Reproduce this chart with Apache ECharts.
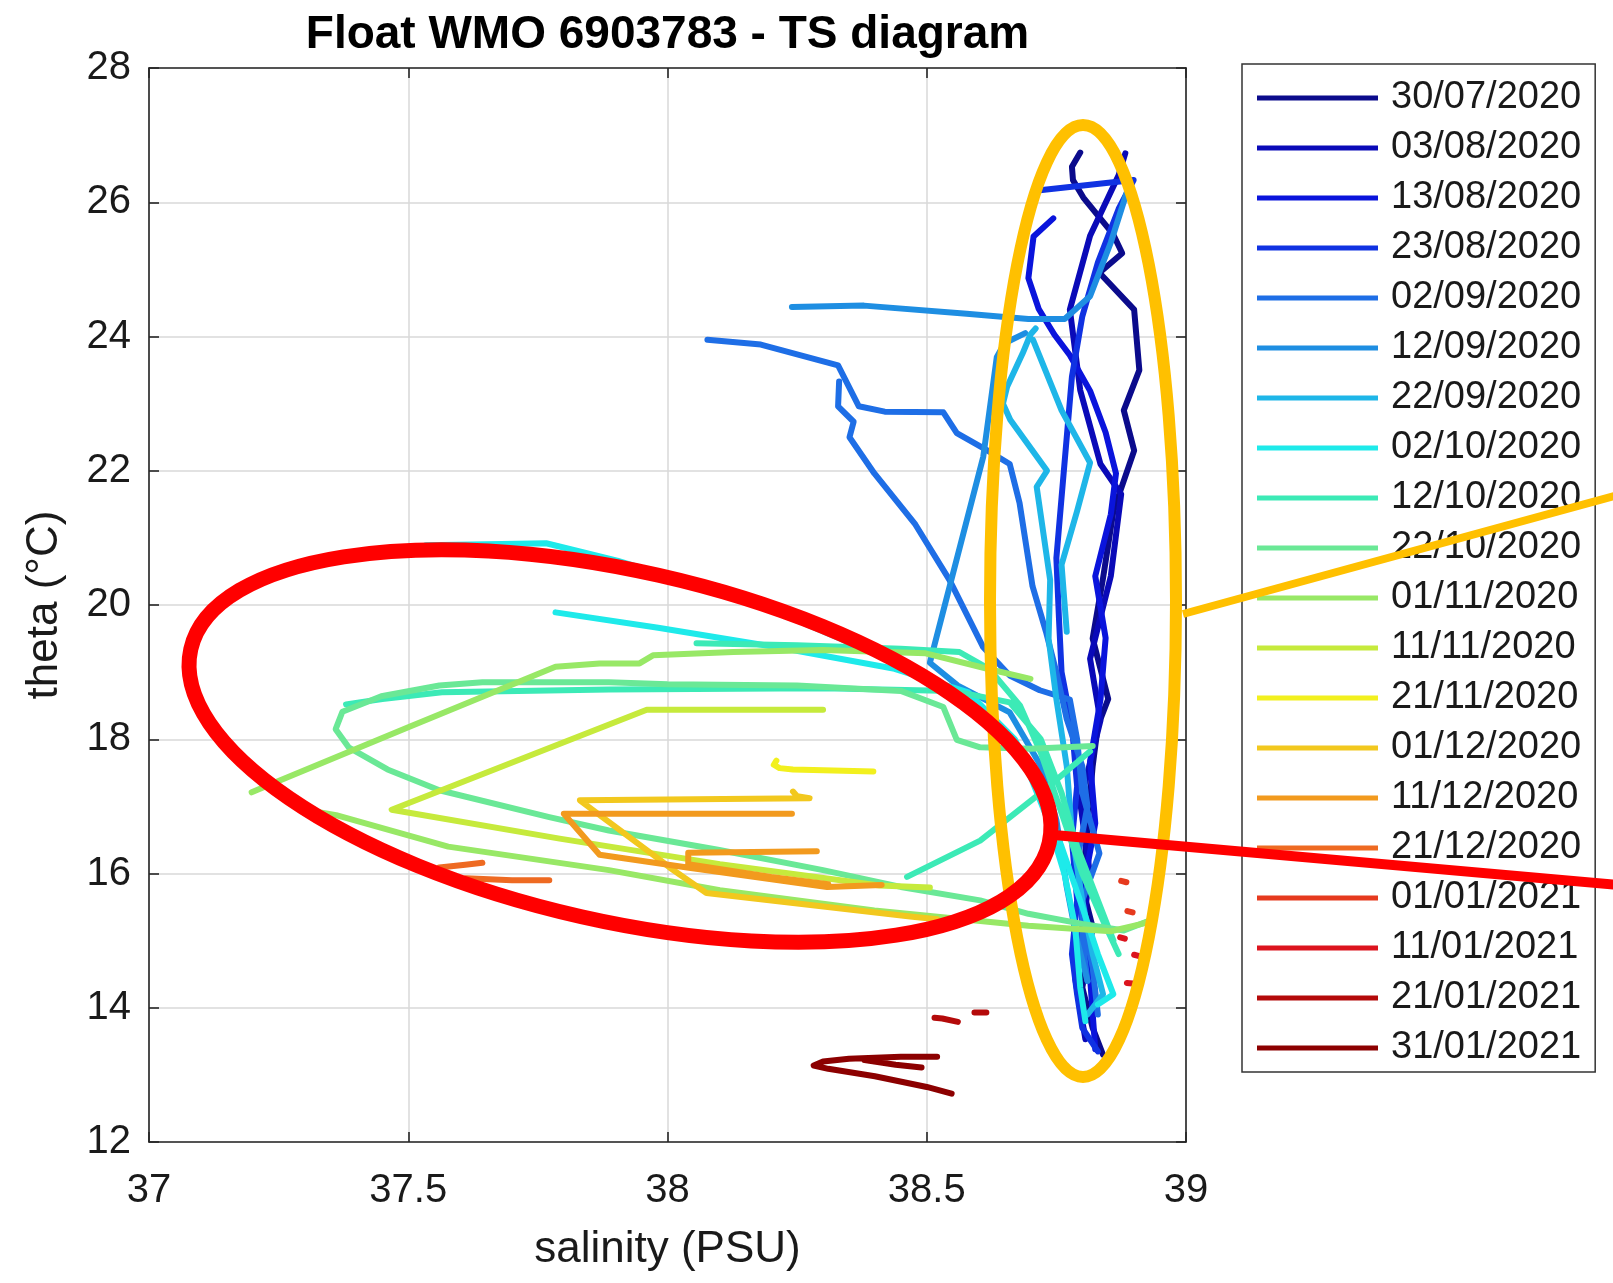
<!DOCTYPE html>
<html>
<head>
<meta charset="utf-8">
<title>Float WMO 6903783 - TS diagram</title>
<script src="https://cdn.jsdelivr.net/npm/echarts@6/dist/echarts.min.js"></script>
<style>
  html, body { margin: 0; padding: 0; background: #ffffff; }
  #chart { width: 1613px; height: 1283px; }
</style>
</head>
<body>
<div id="chart"></div>
<script>
// Profile dates (one legend entry per profile)
const profileDates = [
  '30/07/2020', '03/08/2020', '13/08/2020', '23/08/2020', '02/09/2020',
  '12/09/2020', '22/09/2020', '02/10/2020', '12/10/2020', '22/10/2020',
  '01/11/2020', '11/11/2020', '21/11/2020', '01/12/2020', '11/12/2020',
  '21/12/2020', '01/01/2021', '11/01/2021', '21/01/2021', '31/01/2021'
];

// jet-like colour sequence, one per profile
const profileColors = [
  '#0b0b8c', '#0a0ab8', '#0a14dc', '#1032e2', '#1e6ee6',
  '#1e8ee2', '#1eb6e8', '#1eeaea', '#3ceab6', '#6ae896',
  '#98e866', '#c6ea3c', '#f2f01e', '#f2c81e', '#f29a1e',
  '#ee6a22', '#e63a1e', '#dc141e', '#b40a0a', '#8c0000'
];

// gap marker between separate pieces of the same profile
const GAP = ['-', '-'];

// [salinity (PSU), theta (°C)]
const p_30_07_2020 = [[38.796,26.74],[38.78,26.53],[38.782,26.33],[38.802,26.07],[38.859,25.53],[38.877,25.24],[38.833,24.95],[38.90,24.4],[38.91,23.5],[38.88,22.9],[38.90,22.3],[38.86,21.4],[38.84,20.4],[38.82,19.5],[38.85,18.6],[38.83,18.2],[38.82,17.6],[38.81,16.7],[38.80,15.8],[38.82,15.2],[38.80,14.3],[38.82,13.7],[38.84,13.3]];
const p_03_08_2020 = [[38.883,26.73],[38.87,26.4],[38.815,25.5],[38.776,24.4],[38.796,23.2],[38.835,22.1],[38.875,21.65],[38.855,20.43],[38.815,19.2],[38.835,18.28],[38.796,17.06],[38.815,15.98],[38.786,14.45],[38.806,13.53]];
const p_13_08_2020 = [[38.744,25.76],[38.706,25.49],[38.696,24.87],[38.716,24.41],[38.746,24.03],[38.776,23.72],[38.815,23.19],[38.845,22.57],[38.865,21.96],[38.855,21.35],[38.825,20.43],[38.845,19.51],[38.835,18.59],[38.815,17.67],[38.825,16.75],[38.796,15.52],[38.815,14.45],[38.825,13.38]];
const p_23_08_2020 = [[38.718,26.18],[38.899,26.33],[38.87,25.9],[38.83,25.1],[38.80,24.3],[38.78,23.4],[38.77,22.5],[38.76,21.6],[38.75,20.7],[38.755,19.8],[38.76,19.0],[38.78,18.2],[38.79,17.3],[38.78,16.5],[38.79,15.6],[38.78,14.8],[38.79,14.2],[38.80,13.7],[38.83,13.35]];
const p_02_09_2020 = [[38.077,23.95],[38.18,23.88],[38.329,23.57],[38.369,22.96],[38.419,22.88],[38.532,22.87],[38.558,22.56],[38.615,22.31],[38.66,22.1],[38.679,21.52],[38.704,20.28],[38.73,19.6],[38.75,19.0],[38.77,18.3],[38.80,17.6],[38.81,17.0],[38.79,16.2],[38.80,15.4],[38.82,14.6],[38.83,13.9],
  GAP, [38.331,23.33],[38.329,22.96],[38.359,22.73],[38.351,22.5],[38.399,21.96],[38.478,21.2],[38.544,20.37],[38.609,19.37],[38.66,18.95],[38.718,18.73],[38.776,18.59],[38.79,18.0],[38.80,17.2],[38.833,16.3],[38.80,15.6],[38.80,15.0],[38.81,14.4]];
const p_12_09_2020 = [[38.240,24.44],[38.379,24.46],[38.577,24.34],[38.696,24.26],[38.766,24.26],[38.815,24.6],[38.855,25.4],[38.89,26.25],
  GAP, [38.69,24.05],[38.65,23.9],[38.635,23.69],[38.609,22.21],[38.506,19.14],[38.56,18.8],[38.66,18.4],[38.72,17.6],[38.75,16.8],[38.77,15.8],[38.79,15.0],[38.81,14.4]];
const p_22_09_2020 = [[38.71,24.12],[38.70,24.03],[38.685,23.75],[38.655,23.25],[38.647,23.0],[38.661,22.76],[38.732,22.0],[38.712,21.76],[38.738,20.37],[38.735,19.5],[38.75,18.6],[38.77,17.6],[38.78,16.6],[38.80,15.6],[38.82,14.8],[38.84,14.2],[38.81,13.9],
  GAP, [38.705,23.95],[38.76,22.9],[38.815,22.12],[38.79,21.4],[38.76,20.6],[38.77,19.6]];
const p_02_10_2020 = [[37.534,20.89],[37.766,20.92],[37.903,20.66],[38.101,20.2],[38.26,19.74],[38.399,19.28],[38.538,18.74],[38.637,18.13],[38.696,17.52],[38.736,16.75],[38.766,15.98],[38.786,15.22],[38.796,14.3],[38.806,13.8],
  GAP, [37.784,19.89],[37.982,19.66],[38.22,19.36],[38.438,19.05],[38.58,18.7],[38.67,18.0],[38.72,17.2],[38.76,16.4],[38.80,15.5],[38.83,14.8],[38.86,14.2],[38.83,14.05]];
const p_12_10_2020 = [[38.056,19.43],[38.25,19.4],[38.45,19.35],[38.563,19.3],[38.62,19.05],[38.68,18.5],[38.72,17.8],[38.76,16.9],[38.80,16.0],[38.84,15.3],[38.87,14.8],
  GAP, [37.38,18.52],[37.45,18.6],[37.565,18.7],[37.887,18.74],[38.3,18.76],[38.55,18.72],[38.66,18.55],[38.72,18.0],[38.76,17.2],[38.79,16.4],[38.83,15.6],[38.86,15.0],
  GAP, [38.462,15.95],[38.603,16.49],[38.72,17.2],[38.815,17.82]];
const p_22_10_2020 = [[38.82,17.9],[38.70,17.86],[38.603,17.88],[38.558,17.99],[38.532,18.48],[38.45,18.72],[38.25,18.8],[38.0,18.82],[37.887,18.85],[37.643,18.85],[37.56,18.8],[37.448,18.64],[37.373,18.41],[37.36,18.15],[37.385,17.88],[37.46,17.55],[37.56,17.24],[37.772,16.84],[37.887,16.64],[38.1,16.35],[38.3,16.05],[38.45,15.8],[38.603,15.6],[38.696,15.4],[38.80,15.25],[38.88,15.15],[38.93,15.3]];
const p_01_11_2020 = [[37.198,17.21],[37.244,17.36],[37.5,18.18],[37.784,19.08],[37.869,19.13],[37.946,19.13],[37.972,19.25],[38.127,19.3],[38.3,19.33],[38.498,19.28],[38.617,19.05],[38.70,18.9],
  GAP, [37.30,16.95],[37.361,16.87],[37.577,16.4],[37.887,16.05],[38.101,15.75],[38.399,15.45],[38.696,15.22],[38.855,15.14],[38.915,15.25],[38.94,15.32]];
const p_11_11_2020 = [[38.30,18.44],[37.96,18.44],[37.468,16.95],[37.792,16.52],[38.101,16.14],[38.409,15.82],[38.506,15.79]];
const p_21_11_2020 = [[38.21,17.68],[38.205,17.62],[38.216,17.57],[38.242,17.55],[38.397,17.52]];
const p_01_12_2020 = [[38.242,17.22],[38.25,17.15],[38.274,17.12],[37.831,17.09],[37.986,16.2],[38.004,16.09],[38.075,15.71],[38.468,15.36],[38.52,15.32]];
const p_11_12_2020 = [[38.24,16.89],[37.80,16.89],[37.869,16.28],[38.038,16.09],[38.308,15.80],[38.413,15.83],
  GAP, [38.288,16.33],[38.04,16.31],[38.04,16.14],[38.2,15.95],[38.31,15.84]];
const p_21_12_2020 = [[37.56,16.09],[37.61,16.13],[37.643,16.16], GAP, [37.611,15.93],[37.70,15.9],[37.772,15.9]];
const p_01_01_2021 = [[38.875,15.89],[38.885,15.87], GAP, [38.887,15.44],[38.897,15.42]];
const p_11_01_2021 = [[38.873,15.05],[38.882,15.03], GAP, [38.90,14.79],[38.91,14.77], GAP, [38.886,14.37],[38.897,14.36]];
const p_21_01_2021 = [[38.515,13.85],[38.53,13.84],[38.56,13.79], GAP, [38.592,13.93],[38.615,13.93]];
const p_31_01_2021 = [[38.52,13.27],[38.45,13.27],[38.35,13.24],[38.30,13.20],[38.282,13.14],[38.31,13.09],[38.40,12.98],[38.50,12.82],[38.548,12.72],
  GAP, [38.38,13.22],[38.44,13.15],[38.49,13.11]];

const profiles = [
  p_30_07_2020, p_03_08_2020, p_13_08_2020, p_23_08_2020, p_02_09_2020,
  p_12_09_2020, p_22_09_2020, p_02_10_2020, p_12_10_2020, p_22_10_2020,
  p_01_11_2020, p_11_11_2020, p_21_11_2020, p_01_12_2020, p_11_12_2020,
  p_21_12_2020, p_01_01_2021, p_11_01_2021, p_21_01_2021, p_31_01_2021
];

// Axis ranges
const salinityRange = [37, 39];
const thetaRange = [12, 28];

const FONT = "'Liberation Sans', Arial, Helvetica, sans-serif";
const GRID = { left: 149, top: 68, width: 1037, height: 1074 };
const LINE_WIDTH = 6;

const chart = echarts.init(document.getElementById('chart'), null, { renderer: 'canvas' });

const series = profiles.map((data, i) => ({
  name: profileDates[i],
  type: 'line',
  data: data,
  xAxisIndex: 0,
  yAxisIndex: 0,
  showSymbol: false,
  symbol: 'none',
  connectNulls: false,
  animation: false,
  itemStyle: { color: profileColors[i] },
  lineStyle: { width: LINE_WIDTH, color: profileColors[i], cap: 'round', join: 'round' },
  emphasis: { disabled: true },
  z: 2 + i * 0.01
}));

const frameAxis = {
  axisLine: { show: true, lineStyle: { color: '#262626', width: 1.6 } },
  axisTick: { show: true, inside: true, length: 10, lineStyle: { color: '#262626', width: 1.6 } }
};

chart.setOption({
  backgroundColor: '#ffffff',
  animation: false,
  grid: Object.assign({ containLabel: false }, GRID),
  xAxis: [
    Object.assign({
      type: 'value', position: 'bottom',
      min: salinityRange[0], max: salinityRange[1], interval: 0.5,
      name: 'salinity (PSU)', nameLocation: 'middle', nameGap: 86,
      nameTextStyle: { fontFamily: FONT, fontSize: 44, color: '#1a1a1a' },
      axisLabel: { fontFamily: FONT, fontSize: 40, color: '#1a1a1a', margin: 29 },
      splitLine: { show: true, lineStyle: { color: '#d9d9d9', width: 1.5 } }
    }, frameAxis),
    Object.assign({
      type: 'value', position: 'top',
      min: salinityRange[0], max: salinityRange[1], interval: 0.5,
      axisLabel: { show: false }, splitLine: { show: false }
    }, frameAxis)
  ],
  yAxis: [
    Object.assign({
      type: 'value', position: 'left',
      min: thetaRange[0], max: thetaRange[1], interval: 2,
      name: 'theta (°C)', nameLocation: 'middle', nameGap: 82, nameRotate: 90,
      nameTextStyle: { fontFamily: FONT, fontSize: 44, color: '#1a1a1a' },
      axisLabel: { fontFamily: FONT, fontSize: 40, color: '#1a1a1a', margin: 18 },
      splitLine: { show: true, lineStyle: { color: '#d9d9d9', width: 1.5 } }
    }, frameAxis),
    Object.assign({
      type: 'value', position: 'right',
      min: thetaRange[0], max: thetaRange[1], interval: 2,
      axisLabel: { show: false }, splitLine: { show: false }
    }, frameAxis)
  ],
  legend: {
    data: profileDates,
    orient: 'vertical',
    left: 1242, top: 64,
    padding: [14, 14, 4, 15],
    icon: 'rect',
    itemWidth: 121, itemHeight: 5, itemGap: 10,
    selectedMode: false,
    backgroundColor: '#ffffff',
    borderColor: '#333333', borderWidth: 1.5, borderRadius: 0,
    textStyle: { fontFamily: FONT, fontSize: 38, color: '#1a1a1a', lineHeight: 40, padding: [0, 0, 0, 8] }
  },
  graphic: [
    {
      type: 'text', silent: true, z: 50,
      x: GRID.left + GRID.width / 2, y: 35,
      style: {
        text: 'Float WMO 6903783 - TS diagram',
        font: 'bold 46px ' + FONT, fill: '#000000',
        align: 'center', verticalAlign: 'middle'
      }
    },
    // highlighted region around the deep salty profiles
    {
      type: 'ellipse', silent: true, z: 100,
      x: 1083, y: 601,
      shape: { cx: 0, cy: 0, rx: 93, ry: 476 },
      style: { fill: null, stroke: '#FFC000', lineWidth: 12 }
    },
    {
      type: 'line', silent: true, z: 100,
      shape: { x1: 1183, y1: 614, x2: 1640, y2: 489 },
      style: { stroke: '#FFC000', lineWidth: 8 }
    },
    // highlighted region around the fresher intermediate waters
    {
      type: 'ellipse', silent: true, z: 100,
      x: 620, y: 746, rotation: -0.222,
      shape: { cx: 0, cy: 0, rx: 440, ry: 175 },
      style: { fill: null, stroke: '#FF0000', lineWidth: 15 }
    },
    {
      type: 'line', silent: true, z: 100,
      shape: { x1: 1054, y1: 835, x2: 1640, y2: 887 },
      style: { stroke: '#FF0000', lineWidth: 10 }
    }
  ],
  series: series
});
</script>
</body>
</html>
